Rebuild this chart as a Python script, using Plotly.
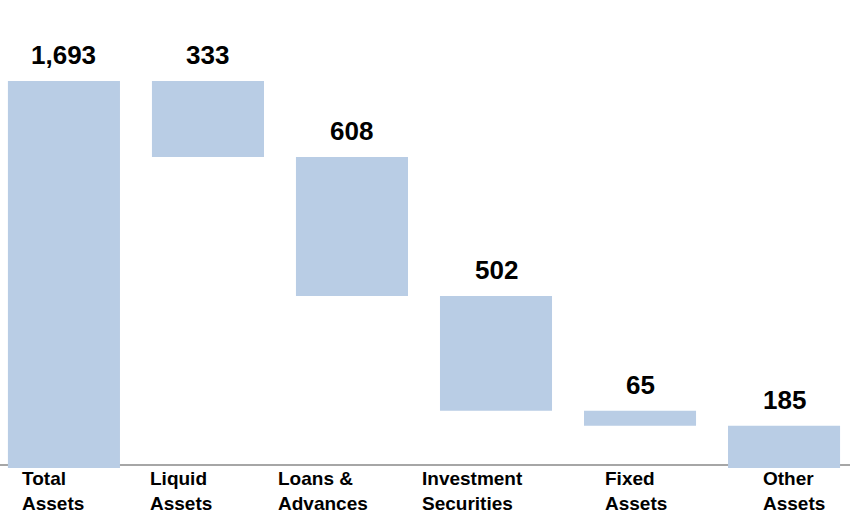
import plotly.graph_objects as go

# data
categories = ["Total Assets", "Liquid Assets", "Loans & Advances",
              "Investment Securities", "Fixed Assets", "Other Assets"]
tick_labels = ["Total<br>Assets", "Liquid<br>Assets", "Loans &<br>Advances",
               "Investment<br>Securities", "Fixed<br>Assets", "Other<br>Assets"]
total_assets = 1693
components = [333, 608, 502, 65, 185]

# bar extents: total from zero, then each component steps down
values = [total_assets] + components
bases = [0]
running = total_assets
for v in components:
    running -= v
    bases.append(running)
tops = [b + v for b, v in zip(bases, values)]

BAR_COLOR = "#b9cde5"
FONT = "Liberation Sans, Arial, sans-serif"
# small per-label pixel nudges so the two-line captions sit as in the original
LABEL_SHIFT = [-44, -60, -76, -76, -37, -23]

fig = go.Figure()
fig.add_trace(go.Bar(
    x=categories, y=values, base=bases,
    marker=dict(color=BAR_COLOR, line=dict(width=0)),
    width=0.778, hoverinfo="skip",
))

for cat, top, v in zip(categories, tops, values):
    fig.add_annotation(
        x=cat, y=top, xref="x", yref="y", text=f"{v:,}",
        showarrow=False, yanchor="bottom", yshift=9,
        font=dict(family=FONT, size=26, color="#000000", weight="bold"),
    )

for cat, lab, dx in zip(categories, tick_labels, LABEL_SHIFT):
    fig.add_annotation(
        x=cat, y=0, xref="x", yref="paper", text=lab,
        showarrow=False, xanchor="left", yanchor="top", align="left",
        xshift=dx, yshift=2,
        font=dict(family=FONT, size=19, color="#000000", weight="bold"),
    )

# baseline rule
fig.add_shape(type="line", xref="paper", yref="paper", x0=0, x1=1,
              y0=0.0064, y1=0.0064, layer="below",
              line=dict(color="#a6a6a6", width=2))

fig.update_xaxes(type="category", range=[-0.444, 5.458], visible=False)
fig.update_yaxes(range=[0, 2047], visible=False)
fig.update_layout(
    width=850, height=517,
    margin=dict(l=0, r=0, t=0, b=49),
    paper_bgcolor="white", plot_bgcolor="white",
    showlegend=False,
    font=dict(family=FONT),
)

# drop the page's default body margin so the figure sits at the window corner
fig.write_html("out.html", config={"displayModeBar": False},
               post_script="document.body.style.margin='0';")
